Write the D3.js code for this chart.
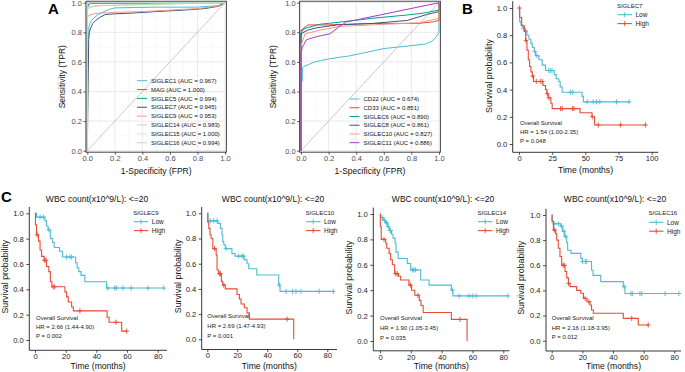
<!DOCTYPE html>
<html><head><meta charset="utf-8">
<script src="https://cdn.jsdelivr.net/npm/d3@7"></script>
<style>body{margin:0;background:#fff}svg{display:block}</style>
</head><body><svg id="c" width="685" height="372"></svg>
<script>
// ---------------- DATA ----------------
const rocTicks = [0, 0.2, 0.4, 0.6, 0.8, 1.0];
const rocMinor = [0.1, 0.3, 0.5, 0.7, 0.9];

const rocLeftGenes = ["SIGLEC1", "MAG", "SIGLEC5", "SIGLEC7", "SIGLEC9", "SIGLEC14", "SIGLEC15", "SIGLEC16"];
const rocLeftAUC = ["0.967", "1.000", "0.994", "0.945", "0.953", "0.983", "1.000", "0.994"];
const rocSIGLEC1 = [[0,0],[0,0.75],[0.01,0.78],[0.012,0.84],[0.02,0.86],[0.03,0.88],[0.05,0.9],[0.08,0.92],[0.12,0.94],[0.16,0.955],[0.2,0.965],[0.5,0.97],[0.8,0.97],[0.95,0.98],[1,1]];
const rocMAG = [[0,0],[0,1],[1,1]];
const rocSIGLEC5 = [[0,0],[0,0.96],[0.01,0.99],[0.03,0.995],[1,1]];
const rocSIGLEC7 = [[0,0],[0.01,0.75],[0.015,0.8],[0.025,0.83],[0.04,0.86],[0.06,0.88],[0.09,0.9],[0.13,0.92],[0.2,0.925],[0.33,0.93],[0.5,0.94],[0.7,0.95],[0.85,0.96],[0.95,0.975],[1,1]];
const rocSIGLEC9 = [[0,0],[0,0.9],[0.01,0.915],[0.05,0.925],[0.1,0.93],[0.2,0.935],[0.4,0.94],[0.6,0.95],[0.8,0.96],[0.97,0.98],[1,1]];
const rocSIGLEC14 = [[0,0],[0,0.95],[0.02,0.97],[0.05,0.98],[0.3,0.985],[1,1]];
const rocSIGLEC15 = [[0,0],[0,1],[1,1]];
const rocSIGLEC16 = [[0,0],[0,0.96],[0.02,0.97],[0.1,0.98],[0.5,0.99],[1,1]];
const rocLeftCurves = [rocSIGLEC1, rocMAG, rocSIGLEC5, rocSIGLEC7, rocSIGLEC9, rocSIGLEC14, rocSIGLEC15, rocSIGLEC16];

const rocRightGenes = ["CD22", "CD33", "SIGLEC6", "SIGLEC8", "SIGLEC10", "SIGLEC11"];
const rocRightAUC = ["0.674", "0.851", "0.890", "0.861", "0.827", "0.886"];
const rocCD22 = [[0,0],[0,0.47],[0.01,0.47],[0.01,0.56],[0.02,0.57],[0.05,0.58],[0.1,0.6],[0.15,0.61],[0.2,0.62],[0.27,0.63],[0.35,0.64],[0.45,0.66],[0.5,0.67],[0.6,0.69],[0.7,0.7],[0.8,0.71],[0.9,0.72],[0.95,0.74],[0.98,0.77],[1,0.8],[1,1]];
const rocCD33 = [[0,0],[0,0.79],[0.02,0.83],[0.05,0.85],[0.2,0.85],[0.4,0.856],[0.6,0.86],[0.85,0.86],[0.95,0.87],[1,0.88],[1,1]];
const rocSIGLEC6 = [[0,0],[0,0.815],[0.04,0.83],[0.14,0.855],[0.2,0.86],[0.52,0.895],[0.77,0.917],[0.89,0.93],[1,0.95],[1,1]];
const rocSIGLEC8 = [[0,0],[0,0.79],[0.05,0.815],[0.11,0.83],[0.26,0.85],[0.52,0.86],[0.77,0.88],[0.91,0.92],[1,0.94],[1,1]];
const rocSIGLEC10 = [[0,0],[0,0.7],[0.005,0.725],[0.03,0.79],[0.14,0.815],[0.28,0.84],[0.52,0.85],[0.86,0.865],[1,0.895],[1,1]];
const rocSIGLEC11 = [[0,0],[0,0.66],[0.01,0.7],[0.04,0.75],[0.11,0.77],[0.21,0.79],[0.28,0.84],[0.33,0.87],[1,1]];
const rocRightCurves = [rocCD22, rocCD33, rocSIGLEC6, rocSIGLEC8, rocSIGLEC10, rocSIGLEC11];

const survTicks = [0, 0.2, 0.4, 0.6, 0.8, 1.0];
const timeTicksB = [0, 25, 50, 75, 100];
const timeTicksC = [0, 20, 40, 60, 80];
const groups = ["Low", "High"];

// Panel B: SIGLEC7
const bLowSteps = [[0,1],[0.5,0.9],[1.5,0.875],[3,0.85],[4.5,0.83],[6,0.80],[7.5,0.77],[9,0.74],[10,0.71],[11.5,0.68],[12.5,0.65],[15,0.62],[17.5,0.58],[20,0.54],[26.5,0.51],[28,0.48],[30,0.46],[31,0.42],[32.5,0.38],[47.5,0.35],[48.5,0.31]];
const bLowEnd = 83;
const bLowCens = [3.5,5,12,13.5,22.4,23.6,24.9,38.7,40.5,51.4,55.9,58.4,60.9,73.5,83];
const bHighSteps = [[0,1],[0.5,0.93],[2,0.87],[4,0.83],[5,0.76],[6,0.69],[7,0.62],[8,0.57],[9,0.53],[10,0.50],[11,0.46],[18,0.43],[20,0.40],[21,0.37],[22,0.34],[24,0.30],[25,0.26],[46,0.23],[55,0.20],[57,0.14]];
const bHighEnd = 95.4;
const bHighCens = [0.3,5.3,10.3,13,16,17.5,21.3,22.6,31.4,32.6,40.2,41.4,55.2,59.7,76.6,95.4];

// Panel C1: SIGLEC9
const c1LowSteps = [[0,1],[1,0.97],[6.5,0.94],[7.5,0.9],[8.5,0.87],[10,0.80],[11.5,0.77],[12.5,0.73],[16,0.70],[18,0.655],[26.5,0.61],[27.5,0.57],[28.5,0.54],[30,0.51],[32.5,0.46],[46.7,0.41]];
const c1LowEnd = 84;
const c1LowCens = [3.3,5.4,9,20.6,22.8,23.9,47.5,52,53,57.3,62.7,73.6,84];
const c1HighSteps = [[0,1],[0.3,0.91],[1,0.83],[2.3,0.78],[3.3,0.71],[4.3,0.66],[6,0.63],[7.5,0.58],[9,0.54],[10,0.46],[11,0.42],[19.5,0.38],[20.6,0.34],[21.7,0.30],[23.9,0.26],[25,0.23],[47,0.18],[48.3,0.14],[56.5,0.07]];
const c1HighEnd = 59.8;
const c1HighCens = [1.4,6.1,7.2,11.8,12.8,29.3,52.8,59.8];

// Panel C2: SIGLEC10
const c2LowSteps = [[0,1],[0.5,0.94],[7,0.92],[8.7,0.88],[9.8,0.83],[10.3,0.775],[11,0.75],[12,0.72],[16.4,0.68],[18.5,0.66],[24.5,0.63],[26.5,0.60],[27.6,0.56],[33,0.51],[47.6,0.43],[48.5,0.38]];
const c2LowEnd = 84;
const c2LowCens = [2,4.3,6.5,12.5,20.9,23.1,24.2,48,52.5,56.9,59.1,62.4,74.6,84];
const c2HighSteps = [[0,1],[0.3,0.93],[1,0.88],[1.8,0.83],[2.5,0.80],[3.7,0.72],[5.9,0.67],[6.5,0.55],[7.6,0.52],[9.4,0.46],[10.3,0.43],[12,0.40],[19.8,0.355],[21.4,0.32],[22.5,0.28],[24.7,0.25],[26.5,0.21],[28,0.16],[57.6,0]];
const c2HighEnd = 57.6;
const c2HighCens = [4.8,8,8.7,11,53.2];

// Panel C3: SIGLEC14
const c3LowSteps = [[0,1],[0.5,0.97],[2,0.95],[3.5,0.93],[5,0.90],[6,0.87],[7.5,0.84],[8.5,0.81],[9.8,0.77],[10.4,0.70],[11.7,0.65],[17.7,0.61],[19.9,0.56],[26.4,0.48],[31.8,0.44],[46.3,0.40],[47.3,0.355]];
const c3LowEnd = 83;
const c3LowCens = [1.5,2.8,4.2,5.2,6.5,7,21,22,23.1,47,51.4,57.7,59.9,62.3,83];
const c3HighSteps = [[0,1],[0.2,0.90],[0.8,0.80],[3.7,0.77],[4.4,0.73],[5.9,0.69],[6.9,0.64],[8,0.60],[9.5,0.53],[12,0.51],[13.4,0.48],[18.8,0.44],[20.5,0.40],[22.6,0.36],[25.5,0.32],[26.6,0.28],[28,0.225],[46.3,0.17],[56.5,0]];
const c3HighEnd = 56.5;
const c3HighCens = [2.6,10.2,11.2,19.7,24.6,51.9];

// Panel C4: SIGLEC16
const c4LowSteps = [[0,1],[0.4,0.95],[1,0.93],[5.9,0.91],[7,0.87],[8.3,0.83],[9.8,0.78],[10.4,0.72],[12.6,0.695],[19,0.655],[20,0.63],[26,0.56],[27,0.52],[32,0.47],[46.7,0.43],[47.8,0.375]];
const c4LowEnd = 83;
const c4LowCens = [2,4.5,6.5,8,9,20.2,21.9,22.8,47.3,51.7,52.6,57.6,58.8,74,83];
const c4HighSteps = [[0,1],[0.2,0.95],[1.1,0.88],[2.6,0.85],[3.3,0.80],[4.3,0.735],[5.4,0.67],[6.5,0.60],[8.7,0.55],[9.8,0.50],[10.9,0.456],[12,0.43],[16.3,0.40],[19,0.377],[20.7,0.337],[23,0.31],[25,0.284],[26,0.244],[27.2,0.218],[46.7,0.178],[56.5,0.125]];
const c4HighEnd = 63;
const c4HighCens = [1.8,7.5,8.2,11,21.8,24.3,52.2,63];

const kmGenes = ["SIGLEC7", "SIGLEC9", "SIGLEC10", "SIGLEC14", "SIGLEC16"];
const kmHR = ["HR = 1.54 (1.00-2.35)", "HR = 2.66 (1.44-4.90)", "HR = 2.69 (1.47-4.93)", "HR = 1.90 (1.05-3.45)", "HR = 2.16 (1.18-3.95)"];
const kmP = ["P = 0.048", "P = 0.002", "P = 0.001", "P = 0.035", "P = 0.012"];
const kmTitle = "WBC count(x10^9/L): <=20";

// ---------------- STYLE / LAYOUT ----------------
const FONT = '"Liberation Sans", Arial, Helvetica, sans-serif';
const rocLeftColors = ["#4DBBD5", "#E64B35", "#00A087", "#3C5488", "#F39B7F", "#cfcfcf", "#c4e9e6", "#b4e4a4"];
const rocRightColors = ["#4DBBD5", "#E64B35", "#00A087", "#3C5488", "#F39B7F", "#A63BD0"];
const groupColors = ["#4DBBD5", "#E64B35"];

const svg = d3.select('#c');

function drawRoc(geom, genes, aucs, curves, colors) {
  const g = svg.append('g');
  const x = d3.scaleLinear().domain([0,1]).range([geom.x0, geom.x1]);
  const y = d3.scaleLinear().domain([0,1]).range([geom.y0, geom.y1]);
  const bx0 = x(-0.01), bx1 = x(1.01), by0 = y(-0.01), by1 = y(1.01);
  g.append('rect').attr('x',bx0).attr('y',by1).attr('width',bx1-bx0).attr('height',by0-by1).attr('fill','#fff');
  g.selectAll('.mx').data(rocMinor).join('line').attr('x1',d=>x(d)).attr('x2',d=>x(d)).attr('y1',by0).attr('y2',by1).attr('stroke','#f3f3f3').attr('stroke-width',0.5);
  g.selectAll('.my').data(rocMinor).join('line').attr('y1',d=>y(d)).attr('y2',d=>y(d)).attr('x1',bx0).attr('x2',bx1).attr('stroke','#f3f3f3').attr('stroke-width',0.5);
  g.selectAll('.Mx').data(rocTicks).join('line').attr('x1',d=>x(d)).attr('x2',d=>x(d)).attr('y1',by0).attr('y2',by1).attr('stroke','#e6e6e6').attr('stroke-width',0.9);
  g.selectAll('.My').data(rocTicks).join('line').attr('y1',d=>y(d)).attr('y2',d=>y(d)).attr('x1',bx0).attr('x2',bx1).attr('stroke','#e6e6e6').attr('stroke-width',0.9);
  g.append('line').attr('x1',x(0)).attr('y1',y(0)).attr('x2',x(1)).attr('y2',y(1)).attr('stroke','#bdbdbd').attr('stroke-width',0.8);
  const line = d3.line().x(d=>x(d[0])).y(d=>y(d[1]));
  curves.forEach((c,i)=>{
    g.append('path').attr('d',line(c)).attr('fill','none').attr('stroke',colors[i]).attr('stroke-width',1);
  });
  g.append('rect').attr('x',bx0).attr('y',by1).attr('width',bx1-bx0).attr('height',by0-by1).attr('fill','none').attr('stroke','#333').attr('stroke-width',0.9);
  const ay = g.append('g').attr('transform',`translate(${bx0},0)`)
    .call(d3.axisLeft(y).tickValues(rocTicks).tickFormat(d3.format('.1f')).tickSize(2.5).tickPadding(1.5));
  const ax = g.append('g').attr('transform',`translate(0,${by0})`)
    .call(d3.axisBottom(x).tickValues(rocTicks).tickFormat(d3.format('.1f')).tickSize(2.5).tickPadding(1.5));
  [ay,ax].forEach(a=>{
    a.select('.domain').remove();
    a.attr('font-family',FONT).attr('font-size',7.5);
    a.selectAll('line').attr('stroke','#333').attr('stroke-width',0.8);
    a.selectAll('text').attr('fill','#4d4d4d');
  });
  g.append('text').attr('x',(bx0+bx1)/2).attr('y',geom.xTitleY).attr('text-anchor','middle').attr('font-family',FONT).attr('font-size',8.5).attr('fill','#111').text('1-Specificity (FPR)');
  g.append('text').attr('transform',`translate(${geom.yTitleX},${y(0.5)}) rotate(-90)`).attr('text-anchor','middle').attr('font-family',FONT).attr('font-size',8.5).attr('fill','#111').text('Sensitivity (TPR)');
  genes.forEach((gn,i)=>{
    const ly = geom.legY + i*geom.legDy;
    g.append('line').attr('x1',geom.legX).attr('x2',geom.legX+10).attr('y1',ly).attr('y2',ly).attr('stroke',colors[i]).attr('stroke-width',1);
    g.append('text').attr('x',geom.legX+14).attr('y',ly+2.1).attr('font-family',FONT).attr('font-size',6).attr('fill','#111').text(`${gn} (AUC = ${aucs[i]})`);
  });
}

drawRoc({x0:87.3, x1:225, y0:150.7, y1:2.7, xTitleY:173.5, yTitleX:65, legX:137, legY:80.7, legDy:8.86},
  rocLeftGenes, rocLeftAUC, rocLeftCurves, rocLeftColors);
drawRoc({x0:301, x1:439, y0:150.7, y1:2.7, xTitleY:173.5, yTitleX:276, legX:349.5, legY:99, legDy:8.74},
  rocRightGenes, rocRightAUC, rocRightCurves, rocRightColors);

function survAt(steps, t) {
  let s = steps[0][1];
  for (const st of steps) { if (st[0] <= t) s = st[1]; }
  return s;
}

function drawKM(geom, idx, timeTicks, series) {
  const g = svg.append('g');
  const x = d3.scaleLinear().domain([0, geom.xt]).range([geom.x0, geom.xtpx]);
  const y = d3.scaleLinear().domain([0, 1]).range([geom.y0, geom.y1]);
  const axL = geom.axL, axB = geom.axB, axR = geom.axR, axT = y(1.05);
  series.forEach((s, i) => {
    const col = groupColors[i];
    let d = `M${x(s.steps[0][0])},${y(s.steps[0][1])}`;
    for (let k = 1; k < s.steps.length; k++) {
      d += `H${x(s.steps[k][0])}V${y(s.steps[k][1])}`;
    }
    d += `H${x(s.end)}`;
    g.append('path').attr('d', d).attr('fill','none').attr('stroke', col).attr('stroke-width', 1.1);
    g.selectAll(null).data(s.cens).join('path')
      .attr('d', t => { const cx = x(t), cy = y(survAt(s.steps, t)); return `M${cx-2.3},${cy}H${cx+2.3}M${cx},${cy-2.6}V${cy+2.6}`; })
      .attr('stroke', col).attr('stroke-width', 0.9).attr('fill','none');
  });
  const ay = g.append('g').attr('transform',`translate(${axL},0)`)
    .call(d3.axisLeft(y).tickValues(survTicks).tickFormat(d3.format('.1f')).tickSize(3).tickPadding(2.5));
  const ax = g.append('g').attr('transform',`translate(0,${axB})`)
    .call(d3.axisBottom(x).tickValues(timeTicks).tickSize(2.5).tickPadding(1));
  [ay, ax].forEach(a => {
    a.select('.domain').remove();
    a.attr('font-family', FONT).attr('font-size', 7.6);
    a.selectAll('line').attr('stroke', '#222').attr('stroke-width', 0.8);
    a.selectAll('text').attr('fill', '#222');
  });
  g.append('line').attr('x1',axL).attr('x2',axL).attr('y1',axT).attr('y2',axB).attr('stroke','#222').attr('stroke-width',0.9);
  g.append('line').attr('x1',axL).attr('x2',axR).attr('y1',axB).attr('y2',axB).attr('stroke','#222').attr('stroke-width',0.9);
  g.append('text').attr('x',(axL+axR)/2).attr('y',geom.xTitleY).attr('text-anchor','middle').attr('font-family',FONT).attr('font-size',8.6).attr('fill','#111').text('Time (months)');
  g.append('text').attr('transform',`translate(${geom.yTitleX},${y(0.5)}) rotate(-90)`).attr('text-anchor','middle').attr('font-family',FONT).attr('font-size',8.8).attr('fill','#111').text('Survival probability');
  if (geom.title) {
    g.append('text').attr('x',geom.titleX).attr('y',geom.titleY).attr('text-anchor','middle').attr('font-family',FONT).attr('font-size',8.5).attr('fill','#111').text(kmTitle);
  }
  [["Overall Survival",0],[kmHR[idx],1],[kmP[idx],2]].forEach(([t,k])=>{
    g.append('text').attr('x',geom.annX).attr('y',geom.annY + k*geom.annDy + 2).attr('font-family',FONT).attr('font-size',6).attr('fill','#222').text(t);
  });
  g.append('text').attr('x',geom.legX).attr('y',geom.legY+2).attr('font-family',FONT).attr('font-size',6).attr('fill','#222').text(kmGenes[idx]);
  groups.forEach((gr,i)=>{
    const ly = geom.legY + 9 + i*8.9;
    const col = groupColors[i];
    g.append('line').attr('x1',geom.legX+0.5).attr('x2',geom.legX+15).attr('y1',ly).attr('y2',ly).attr('stroke',col).attr('stroke-width',1.1);
    const cx = geom.legX + 7.7;
    g.append('path').attr('d',`M${cx},${ly-2.6}V${ly+2.6}`).attr('stroke',col).attr('stroke-width',0.9);
    g.append('text').attr('x',geom.legX+18.5).attr('y',ly+2.3).attr('font-family',FONT).attr('font-size',6.5).attr('fill','#222').text(gr);
  });
}

drawKM({x0:519, xt:100, xtpx:651.7, y0:144, y1:8, axL:512.7, axB:152.3, axR:658.3, xTitleY:172.8, yTitleX:492,
        annX:520, annY:122.7, annDy:9.3, legX:617, legY:5.7, title:false},
  0, timeTicksB, [{steps:bLowSteps,end:bLowEnd,cens:bLowCens},{steps:bHighSteps,end:bHighEnd,cens:bHighCens}]);
drawKM({x0:35, xt:80, xtpx:157.7, y0:340, y1:213.3, axL:29.3, axB:350.3, axR:167, xTitleY:368.6, yTitleX:8,
        annX:36, annY:317.7, annDy:9.2, legX:133.3, legY:212.7, title:true, titleX:97, titleY:202},
  1, timeTicksC, [{steps:c1LowSteps,end:c1LowEnd,cens:c1LowCens},{steps:c1HighSteps,end:c1HighEnd,cens:c1HighCens}]);
drawKM({x0:207.3, xt:80, xtpx:327.3, y0:339.3, y1:213.3, axL:201.7, axB:349.5, axR:337, xTitleY:368.8, yTitleX:181,
        annX:207.3, annY:316, annDy:9.8, legX:305.5, legY:212.7, title:true, titleX:273, titleY:202},
  2, timeTicksC, [{steps:c2LowSteps,end:c2LowEnd,cens:c2LowCens},{steps:c2HighSteps,end:c2HighEnd,cens:c2HighCens}]);
drawKM({x0:380, xt:80, xtpx:503.3, y0:341, y1:214, axL:373.3, axB:350.8, axR:509.5, xTitleY:368.8, yTitleX:352,
        annX:380, annY:317.7, annDy:10, legX:477.5, legY:212.7, title:true, titleX:443, titleY:202},
  3, timeTicksC, [{steps:c3LowSteps,end:c3LowEnd,cens:c3LowCens},{steps:c3HighSteps,end:c3HighEnd,cens:c3HighCens}]);
drawKM({x0:551.7, xt:80, xtpx:674.3, y0:340.7, y1:215, axL:546, axB:351, axR:681, xTitleY:368.8, yTitleX:524,
        annX:551.7, annY:317.7, annDy:9.8, legX:648.5, legY:213.3, title:true, titleX:615, titleY:202},
  4, timeTicksC, [{steps:c4LowSteps,end:c4LowEnd,cens:c4LowCens},{steps:c4HighSteps,end:c4HighEnd,cens:c4HighCens}]);

[["A",48,14],["B",462,14],["C",1,202]].forEach(([t,lx,ly])=>{
  svg.append('text').attr('x',lx).attr('y',ly).attr('font-family',FONT).attr('font-weight','bold').attr('font-size',15).attr('fill','#000').text(t);
});
</script></body></html>
